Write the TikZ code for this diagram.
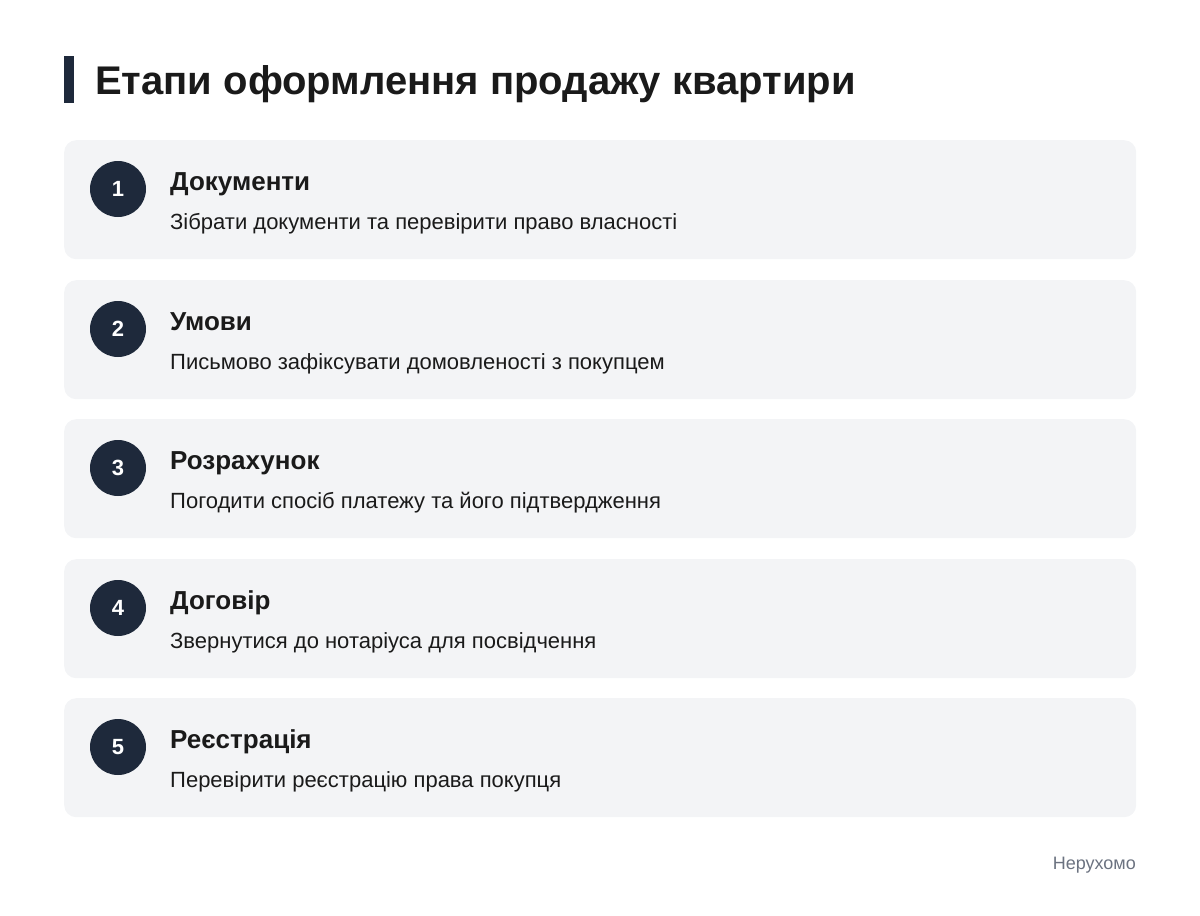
\documentclass[tikz,border=0pt]{standalone}
\usepackage{fontspec}
\setmainfont{Liberation Sans}
\definecolor{navy}{HTML}{1E293B}
\definecolor{cardbg}{HTML}{F3F4F6}
\definecolor{ink}{HTML}{1A1A1A}
\definecolor{muted}{HTML}{6B7280}
\begin{document}
\begin{tikzpicture}[x=1pt, y=-1pt,
	card/.style={rectangle, rounded corners=12pt, fill=cardbg, minimum width=1072pt, minimum height=119pt, anchor=north west, inner sep=0pt},
	badge/.style={circle, fill=navy, minimum size=56pt, inner sep=0pt, text=white, font=\fontsize{22}{26}\selectfont\bfseries},
	head/.style={anchor=base west, inner sep=0pt, text=ink, font=\fontsize{26}{31}\selectfont\bfseries},
	desc/.style={anchor=base west, inner sep=0pt, text=ink, font=\fontsize{22}{26}\selectfont}]
	\useasboundingbox (0,0) rectangle (1200,916);
	
	\fill[navy] (64,56) rectangle (74,103);
	\node (title) at (95,94) [anchor=base west, inner sep=0pt, text=ink, font=\fontsize{40}{48}\selectfont\bfseries]{Етапи оформлення продажу квартири};
	
	\node (c1) at (64,140) [card]{};
	\node (b1) at (118,189) [badge]{1};
	\node (h1) at (170,190) [head]{Документи};
	\node (d1) at (170,229) [desc]{Зібрати документи та перевірити право власності};
	
	\node (c2) at (64,280) [card]{};
	\node (b2) at (118,329) [badge]{2};
	\node (h2) at (170,330) [head]{Умови};
	\node (d2) at (170,369) [desc]{Письмово зафіксувати домовленості з покупцем};
	
	\node (c3) at (64,419) [card]{};
	\node (b3) at (118,468) [badge]{3};
	\node (h3) at (170,469) [head]{Розрахунок};
	\node (d3) at (170,508) [desc]{Погодити спосіб платежу та його підтвердження};
	
	\node (c4) at (64,559) [card]{};
	\node (b4) at (118,608) [badge]{4};
	\node (h4) at (170,609) [head]{Договір};
	\node (d4) at (170,648) [desc]{Звернутися до нотаріуса для посвідчення};
	
	\node (c5) at (64,698) [card]{};
	\node (b5) at (118,747) [badge]{5};
	\node (h5) at (170,748) [head]{Реєстрація};
	\node (d5) at (170,787) [desc]{Перевірити реєстрацію права покупця};
	
	\node (foot) at (1136,869) [anchor=base east, inner sep=0pt, text=muted, font=\fontsize{18}{22}\selectfont]{Нерухомо};
	
\end{tikzpicture}
\end{document}
